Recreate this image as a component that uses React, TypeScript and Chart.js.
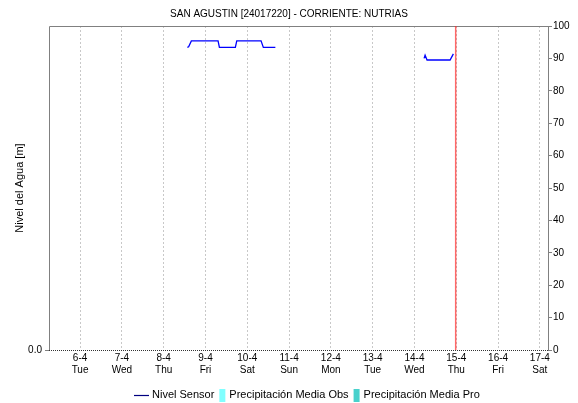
import React, { useEffect, useRef } from "react";
import { Chart, registerables } from "chart.js";

Chart.register(...registerables);

const FONT = "'Liberation Sans', Arial, sans-serif";

const chartTitle = "SAN AGUSTIN [24017220] - CORRIENTE: NUTRIAS";
const yAxisTitle = "Nivel del Agua [m]";

// x axis day ticks (April)
const dayNumbers = [6, 7, 8, 9, 10, 11, 12, 13, 14, 15, 16, 17];
const dayLabels = ["6-4", "7-4", "8-4", "9-4", "10-4", "11-4", "12-4", "13-4", "14-4", "15-4", "16-4", "17-4"];
const weekdayLabels = ["Tue", "Wed", "Thu", "Fri", "Sat", "Sun", "Mon", "Tue", "Wed", "Thu", "Fri", "Sat"];

// time window shown
const rangeStart = "5-4 06:10";
const rangeEnd = "17-4 04:40";
const nowTime = "14-4 23:40";

// Nivel Sensor (right axis); null marks the gap
const sensorTimes = [
  "8-4 13:36", "8-4 14:20", "8-4 15:54", "9-4 07:14", "9-4 08:00",
  "9-4 17:10", "9-4 17:58", "10-4 07:55", "10-4 09:14", "10-4 16:08",
  "12-4 12:00",
  "14-4 05:31", "14-4 06:06", "14-4 07:13", "14-4 20:27", "14-4 22:20",
];
const sensorLevels = [
  93.4, 93.6, 95.4, 95.4, 93.4,
  93.4, 95.4, 95.4, 93.4, 93.4,
  null,
  90.0, 91.0, 89.5, 89.5, 91.4,
];

// precipitation series (no values in the window)
const precipObsTimes: string[] = [];
const precipObsValues: number[] = [];
const precipProTimes: string[] = [];
const precipProValues: number[] = [];

const rightTicks = [0, 10, 20, 30, 40, 50, 60, 70, 80, 90, 100];
const leftTicks = [0];

const seriesLabels = ["Nivel Sensor", "Precipitación Media Obs", "Precipitación Media Pro"];
const seriesColors = ["#0000ff", "#80ffff", "#48d1cc"];

function toDays(s: string): number {
  const [d, t] = s.split(" ");
  const day = parseInt(d.split("-")[0], 10);
  const [hh, mm] = t.split(":").map((v) => parseInt(v, 10));
  return day - 6 + hh / 24 + mm / 1440;
}

export default function App() {
  const ref = useRef<HTMLCanvasElement | null>(null);

  useEffect(() => {
    document.body.style.margin = "0";
    document.body.style.background = "#ffffff";
    const canvas = ref.current;
    if (!canvas) return;

    const framePlugin = {
      id: "framePlugin",
      afterDraw(chart: any) {
        const { ctx, chartArea, width } = chart;
        const { left, right, top, bottom } = chartArea;
        ctx.save();
        // title
        ctx.font = `10px ${FONT}`;
        ctx.fillStyle = "#000000";
        ctx.textAlign = "center";
        ctx.textBaseline = "middle";
        ctx.fillText(chartTitle, width / 2, 14);

        ctx.strokeStyle = "#808080";
        ctx.lineWidth = 1;
        ctx.setLineDash([]);
        ctx.beginPath();
        ctx.moveTo(Math.round(left) + 0.5, Math.round(bottom));
        ctx.lineTo(Math.round(left) + 0.5, Math.round(top) + 0.5);
        ctx.lineTo(Math.round(right) + 0.5, Math.round(top) + 0.5);
        ctx.lineTo(Math.round(right) + 0.5, Math.round(bottom));
        ctx.stroke();
        ctx.strokeStyle = "#333333";
        ctx.setLineDash([1, 1]);
        ctx.beginPath();
        ctx.moveTo(Math.round(left), Math.round(bottom) + 0.5);
        ctx.lineTo(Math.round(right) + 1, Math.round(bottom) + 0.5);
        ctx.stroke();
        // current time marker
        const xNow = chart.scales.x.getPixelForValue(toDays(nowTime));
        ctx.setLineDash([]);
        ctx.strokeStyle = "rgba(255,40,40,0.7)";
        ctx.lineWidth = 1.5;
        ctx.beginPath();
        ctx.moveTo(xNow, top);
        ctx.lineTo(xNow, bottom);
        ctx.stroke();

        // legend
        const ly = 395;
        ctx.font = `11px ${FONT}`;
        ctx.textBaseline = "middle";
        ctx.textAlign = "left";
        let x = 134;
        chart.data.datasets.forEach((ds: any, i: number) => {
          if (i === 0) {
            ctx.strokeStyle = "#000080";
            ctx.lineWidth = 1.2;
            ctx.beginPath();
            ctx.moveTo(x, ly + 0.5);
            ctx.lineTo(x + 15, ly + 0.5);
            ctx.stroke();
            x += 18;
          } else {
            ctx.fillStyle = ds.backgroundColor;
            ctx.fillRect(x, ly - 6, 6, 13);
            x += 10;
          }
          ctx.fillStyle = "#000000";
          ctx.fillText(ds.label, x, ly);
          x += ctx.measureText(ds.label).width + 5;
        });
        ctx.restore();
      },
    };

    const chart = new Chart(canvas, {
      data: {
        datasets: [
          {
            type: "line",
            label: seriesLabels[0],
            data: sensorTimes.map((t, i) => ({ x: toDays(t), y: sensorLevels[i] })) as any,
            borderColor: seriesColors[0],
            backgroundColor: seriesColors[0],
            borderWidth: 1.3,
            pointRadius: 0,
            tension: 0,
            spanGaps: false,
            yAxisID: "y",
          },
          {
            type: "bar",
            label: seriesLabels[1],
            data: precipObsTimes.map((t, i) => ({ x: toDays(t), y: precipObsValues[i] })) as any,
            backgroundColor: seriesColors[1],
            yAxisID: "yPrecip",
          },
          {
            type: "bar",
            label: seriesLabels[2],
            data: precipProTimes.map((t, i) => ({ x: toDays(t), y: precipProValues[i] })) as any,
            backgroundColor: seriesColors[2],
            yAxisID: "yPrecip",
          },
        ],
      },
      options: {
        animation: false,
        responsive: false,
        maintainAspectRatio: false,
        layout: { padding: { left: 0, right: 0, top: 26, bottom: 28 } },
        plugins: {
          legend: { display: false },
          tooltip: { enabled: false },
          title: { display: false },
        },
        scales: {
          x: {
            type: "linear",
            offset: false,
            min: toDays(rangeStart),
            max: toDays(rangeEnd),
            afterBuildTicks: (s: any) => {
              s.ticks = dayNumbers.map((d) => ({ value: d - 6 }));
            },
            afterFit: (s: any) => {
              s.height = 25;
            },
            ticks: {
              autoSkip: false,
              maxRotation: 0,
              minRotation: 0,
              padding: 2,
              color: "#000000",
              font: { family: FONT, size: 10, lineHeight: 1.2 },
              callback: (v: any) => {
                const i = dayNumbers.indexOf(Math.round(Number(v)) + 6);
                return i >= 0 ? [dayLabels[i], weekdayLabels[i]] : "";
              },
            },
            grid: { offset: false, color: "#c8c8c8", drawTicks: false, tickLength: 0, lineWidth: 1 },
            border: { display: false, dash: [2, 2] },
          },
          y: {
            type: "linear",
            position: "right",
            min: 0,
            max: 100,
            afterBuildTicks: (s: any) => {
              s.ticks = rightTicks.map((v) => ({ value: v }));
            },
            afterFit: (s: any) => {
              s.width = 30;
            },
            ticks: {
              color: "#000000",
              padding: 1,
              font: { family: FONT, size: 10 },
              callback: (v: any) => String(v),
            },
            grid: { drawOnChartArea: false, drawTicks: true, tickLength: 4, color: "#808080" },
            border: { display: false },
          },
          yPrecip: {
            type: "linear",
            position: "left",
            min: 0,
            max: 1,
            afterBuildTicks: (s: any) => {
              s.ticks = leftTicks.map((v) => ({ value: v }));
            },
            afterFit: (s: any) => {
              s.width = 49;
            },
            ticks: {
              color: "#000000",
              padding: 3,
              font: { family: FONT, size: 10 },
              callback: (v: any) => Number(v).toFixed(1),
            },
            grid: { drawOnChartArea: false, drawTicks: true, tickLength: 4, color: "#808080" },
            border: { display: false },
            title: {
              display: true,
              text: yAxisTitle,
              color: "#000000",
              font: { family: FONT, size: 11 },
              padding: { top: 13, bottom: 0 },
            },
          },
        },
      },
      plugins: [framePlugin],
    } as any);

    return () => chart.destroy();
  }, []);

  return (
    <div style={{ width: 578, height: 403, background: "#fff" }}>
      <canvas ref={ref} width={578} height={403} style={{ display: "block", width: 578, height: 403 }} />
    </div>
  );
}
